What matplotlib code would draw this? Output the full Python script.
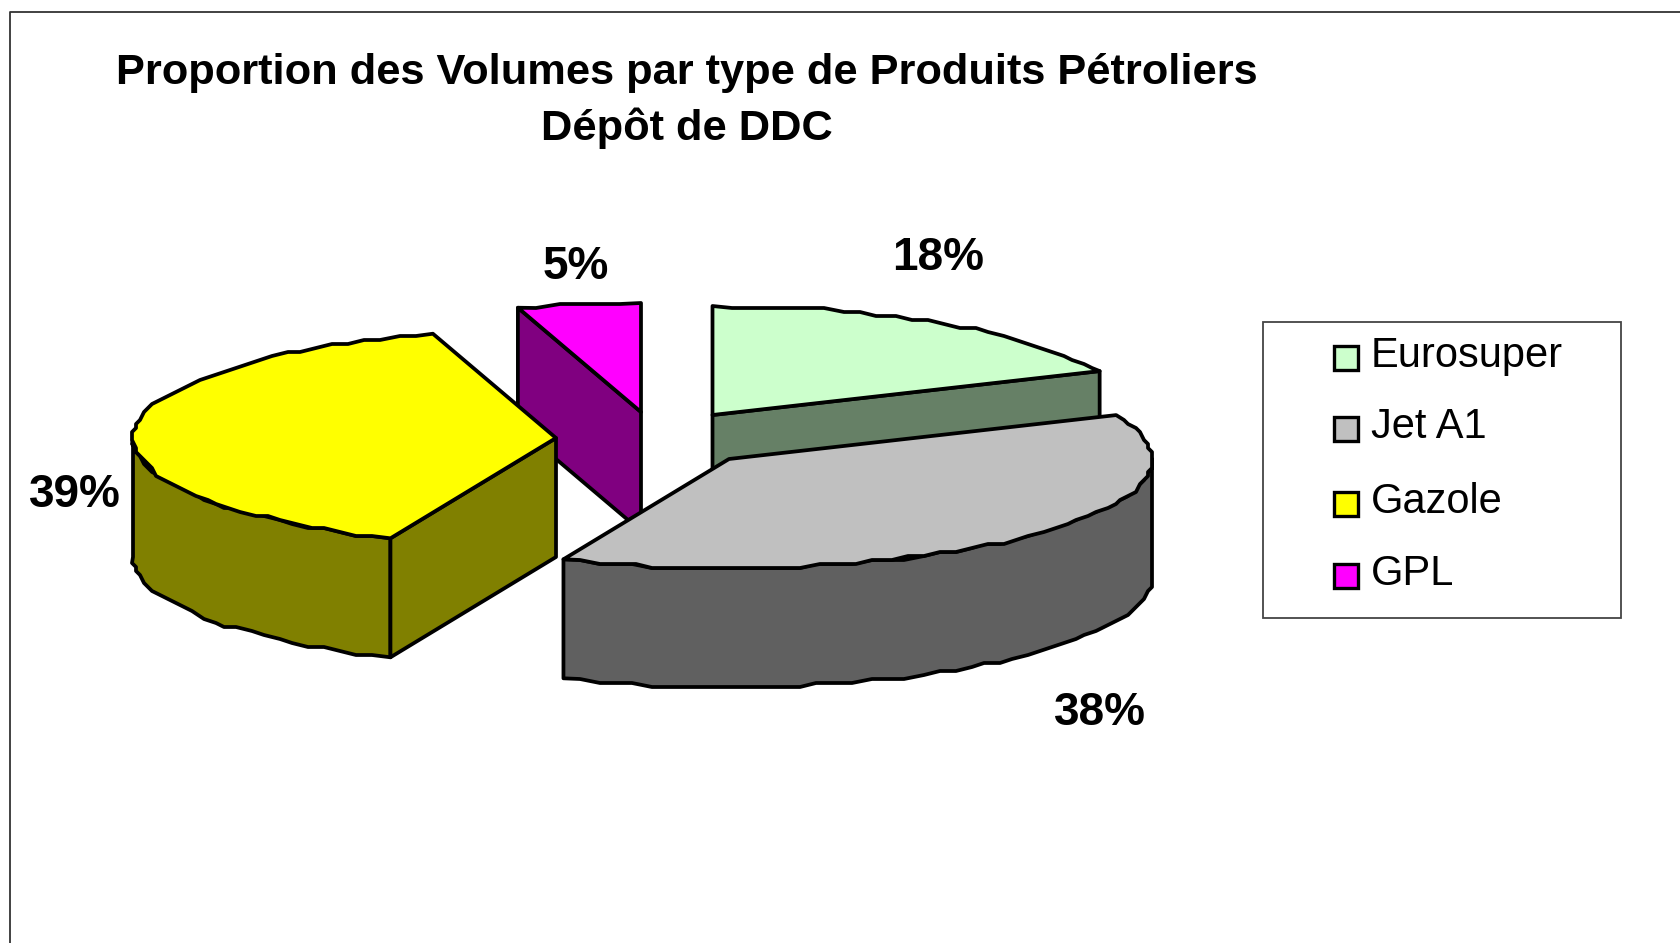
import matplotlib
matplotlib.use('Agg')
import matplotlib.pyplot as plt
from matplotlib.patches import Polygon, Rectangle
import numpy as np

plt.rcParams['font.family'] = ['Liberation Sans', 'DejaVu Sans']

produits = ['Eurosuper', 'Jet A1', 'Gazole', 'GPL']
parts = [18.4, 38.0, 38.9, 4.7]
couleurs = ['#CCFFCC', '#C0C0C0', '#FFFF00', '#FF00FF']
couleurs_cote = ['#668066', '#606060', '#808000', '#800080']

# centre of each exploded slice, in image pixels
centres = {'Eurosuper': (712.5, 415), 'Jet A1': (729, 459), 'Gazole': (556, 438), 'GPL': (641, 412)}
pos_labels = {'Eurosuper': (938, 258), 'Jet A1': (1100, 713), 'Gazole': (75, 495), 'GPL': (576, 267)}
ordre = ['GPL', 'Eurosuper', 'Gazole', 'Jet A1']

A = 423
B = 109
H = 119
LW = 2.7


def arc(c, t0, t1):
    n = max(2, int((t1 - t0) / 2.5) + 1)
    t = np.radians(np.linspace(t0, t1, n))
    x = c[0] + A * np.sin(t)
    y = c[1] - B * np.cos(t)
    # the original outline is stepped, keep the inner points on a coarse grid
    x[1:-1] = np.round(x[1:-1] / 4) * 4
    y[1:-1] = np.round(y[1:-1] / 4) * 4
    return np.column_stack([x, y])


def poly(ax, pts, fc):
    ax.add_patch(Polygon(pts, closed=True, facecolor=fc, edgecolor='black', linewidth=LW, joinstyle='round'))


def tranche(ax, nom, t0, t1, fc, fc_cote):
    c = centres[nom]
    bas = np.array([0, H])
    # outer wall, only the front half of the ellipse shows
    d, f = max(t0, 90), min(t1, 270)
    if f > d:
        a = arc(c, d, f)
        poly(ax, np.vstack([a, a[::-1] + bas]), fc_cote)
    # cut faces turned to the viewer
    for t, visible in ((t0, 180 < t0 < 360), (t1, 0 < t1 < 180)):
        if visible:
            p = arc(c, t, t)[0]
            poly(ax, [c, p, p + bas, np.array(c) + bas], fc_cote)
    poly(ax, np.vstack([[c], arc(c, t0, t1)]), fc)


fig = plt.figure(figsize=(16.8, 9.43), dpi=100)
ax = fig.add_axes([0, 0, 1, 1])
ax.set_xlim(0, 1680)
ax.set_ylim(943, 0)
ax.axis('off')

# chart frame, cut by the image on the right and at the bottom
ax.plot([9.5, 9.5, 1680], [943, 12, 12], color='#333333', linewidth=1.3)

ax.text(687, 73, 'Proportion des Volumes par type de Produits Pétroliers', fontsize=31.2,
        fontweight='bold', ha='center', va='center')
ax.text(687, 128, 'Dépôt de DDC', fontsize=31.2, fontweight='bold', ha='center', va='center')

limites = np.concatenate([[0], np.cumsum(parts)]) * 3.6
for nom in ordre:
    i = produits.index(nom)
    tranche(ax, nom, limites[i], limites[i + 1], couleurs[i], couleurs_cote[i])

for i, nom in enumerate(produits):
    x, y = pos_labels[nom]
    ax.text(x, y, f'{round(parts[i])}%', fontsize=33, fontweight='bold', ha='center', va='center')

# legend
ax.add_patch(Rectangle((1263, 322), 358, 296, facecolor='white', edgecolor='#444444', linewidth=1.3))
y_leg = [358, 429, 504, 576]
for nom, fc, y in zip(produits, couleurs, y_leg):
    ax.add_patch(Rectangle((1334, y - 12), 24, 24, facecolor=fc, edgecolor='black', linewidth=2.4))
    ax.text(1371, y - 2, nom, fontsize=30, ha='left', va='center')

fig.savefig('out.png', dpi=100)
